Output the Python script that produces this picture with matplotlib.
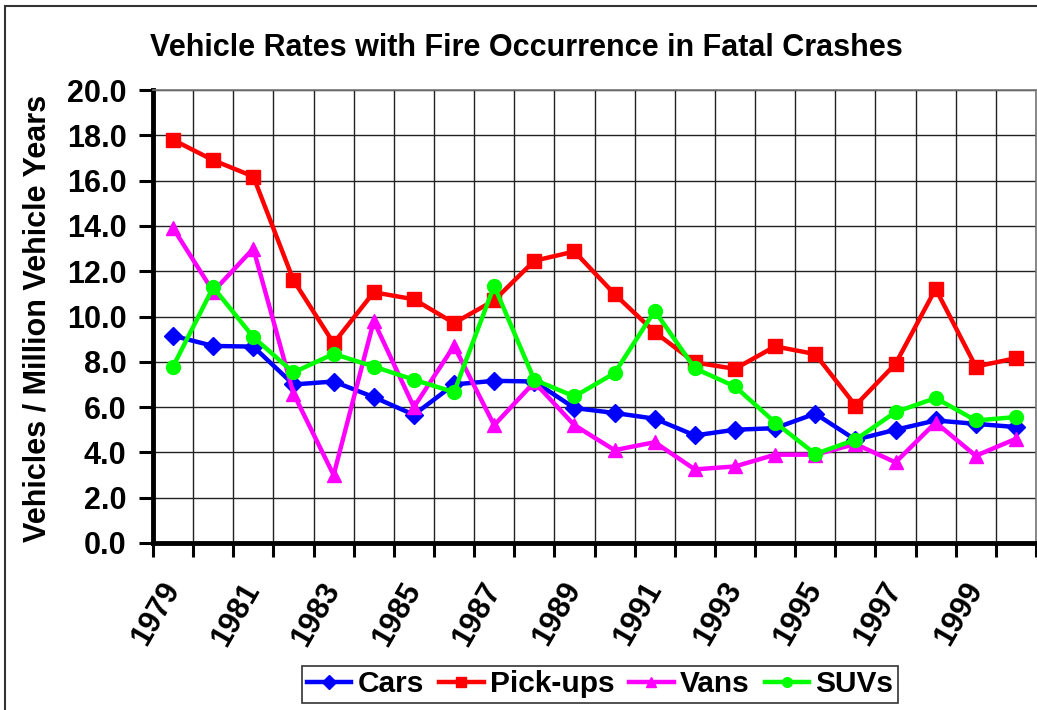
import matplotlib
matplotlib.use("Agg")
import matplotlib.pyplot as plt
from matplotlib.patches import Rectangle
from matplotlib.ticker import FixedLocator, FormatStrFormatter

plt.rcParams['font.family'] = ['Liberation Sans', 'DejaVu Sans']
plt.rcParams['font.weight'] = 'bold'

years = list(range(1979, 2001))
cars = [9.15, 8.7, 8.67, 7.0, 7.13, 6.44, 5.66, 7.0, 7.16, 7.13, 5.96, 5.74, 5.49, 4.75,
        5.0, 5.07, 5.71, 4.56, 5.0, 5.41, 5.26, 5.12]
pickups = [17.8, 16.9, 16.18, 11.6, 8.82, 11.07, 10.76, 9.71, 10.71, 12.46, 12.87, 10.99,
           9.31, 7.97, 7.69, 8.68, 8.34, 6.07, 7.91, 11.22, 7.79, 8.16]
vans = [13.9, 11.1, 13.0, 6.6, 3.0, 9.8, 6.0, 8.7, 5.2, 7.1, 5.2, 4.1, 4.45, 3.25,
        3.38, 3.9, 3.9, 4.37, 3.56, 5.32, 3.85, 4.6]
suvs = [7.79, 11.29, 9.09, 7.53, 8.35, 7.79, 7.21, 6.66, 11.35, 7.21, 6.47, 7.5, 10.25,
        7.71, 6.91, 5.32, 3.93, 4.56, 5.78, 6.40, 5.41, 5.56]
series_names = ['Cars', 'Pick-ups', 'Vans', 'SUVs']
series_colors = ['#0000FF', '#FF0000', '#FF00FF', '#00FF00']
series_markers = ['D', 's', '^', 'o']
series_msize = [9.5, 10, 10.5, 10]
title = 'Vehicle Rates with Fire Occurrence in Fatal Crashes'
ylabel = 'Vehicles / Million Vehicle Years'

W, H = 1037, 710
fig = plt.figure(figsize=(W / 100, H / 100), dpi=100)
ax = fig.add_axes([153 / W, 1 - 543 / H, (1036 - 153) / W, (543 - 90) / H])

x = list(range(len(years)))
for vals, name, c, m, ms in zip([cars, pickups, vans, suvs], series_names,
                                 series_colors, series_markers, series_msize):
    ax.plot(x, vals, color=c, marker=m, markersize=ms, linewidth=3.2,
            markeredgecolor=c, label=name, clip_on=False, zorder=3)

ax.set_xlim(-0.5, len(years) - 0.5)
ax.set_ylim(0, 20)
ax.yaxis.set_major_locator(FixedLocator([i * 2 for i in range(11)]))
ax.yaxis.set_major_formatter(FormatStrFormatter('%.1f'))

ax.set_xticks(x[::2])
ax.set_xticklabels([str(y) for y in years[::2]])
ax.xaxis.set_minor_locator(FixedLocator([i - 0.5 for i in range(len(years) + 1)]))

ax.tick_params(axis='x', which='major', length=0, pad=30, labelsize=22)
ax.tick_params(axis='x', which='minor', length=10, width=2.2, color='black')
ax.tick_params(axis='y', which='major', length=10, width=2.2, pad=9, labelsize=22)
for lab in ax.get_xticklabels():
    lab.set_rotation(60)
    lab.set_ha('right')
    lab.set_va('center')
    lab.set_rotation_mode('anchor')
    lab.set_fontweight('bold')
for lab in ax.get_yticklabels():
    lab.set_fontweight('bold')

ax.grid(True, which='major', axis='y', color='#222222', linewidth=1)
ax.grid(True, which='minor', axis='x', color='#222222', linewidth=1)
ax.set_axisbelow(True)

ax.spines['left'].set_linewidth(3.5)
ax.spines['bottom'].set_linewidth(3.5)
ax.spines['top'].set_color('#777777')
ax.spines['right'].set_color('#777777')
ax.spines['top'].set_linewidth(1.2)
ax.spines['right'].set_linewidth(1.2)

fig.text(526 / W, 1 - 47.5 / H, title, ha='center', va='center',
         fontsize=22, fontweight='bold')
fig.text(38 / W, 1 - 318 / H, ylabel, rotation=90, ha='center', va='center',
         fontsize=22, fontweight='bold')

leg = fig.legend(loc='upper center', bbox_to_anchor=(600 / W, 1 - 666 / H), ncol=4,
                 frameon=True, fancybox=False, edgecolor='black', fontsize=21.5,
                 handlelength=1.5, handletextpad=0.2, columnspacing=0.5,
                 borderpad=0.15, borderaxespad=0, markerscale=0.7)
leg.get_frame().set_linewidth(1.2)
for t in leg.get_texts():
    t.set_fontweight('bold')

fig.patches.append(Rectangle((5 / W, -0.1), 1.2, 1 - 6 / H + 0.1, transform=fig.transFigure,
                             fill=False, edgecolor='#333333', linewidth=1.5))

fig.savefig('out.png', dpi=100)
